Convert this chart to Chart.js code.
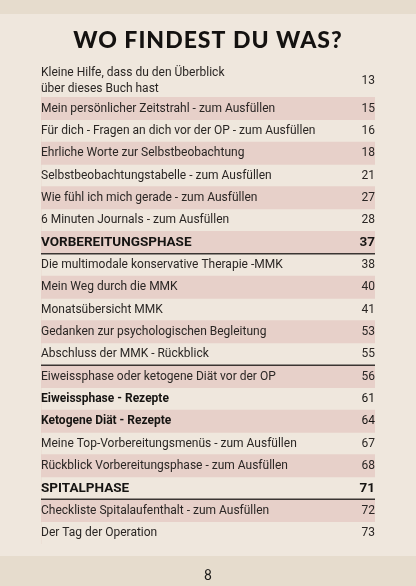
<!DOCTYPE html>
<html>
<head>
<meta charset="utf-8">
<script src="https://cdn.jsdelivr.net/npm/chart.js@4"></script>
<style>
  html, body { margin: 0; padding: 0; background: #efe7dd; }
  #wrap { width: 416px; height: 586px; position: relative; }
</style>
</head>
<body>
<div id="wrap"><canvas id="toc"></canvas></div>
<script>
// table of contents entries (one per row)
const entries = [
  ['Kleine Hilfe, dass du den Überblick', 'über dieses Buch hast'],
  'Mein persönlicher Zeitstrahl - zum Ausfüllen',
  'Für dich - Fragen an dich vor der OP - zum Ausfüllen',
  'Ehrliche Worte zur Selbstbeobachtung',
  'Selbstbeobachtungstabelle - zum Ausfüllen',
  'Wie fühl ich mich gerade - zum Ausfüllen',
  '6 Minuten Journals - zum Ausfüllen',
  'VORBEREITUNGSPHASE',
  'Die multimodale konservative Therapie -MMK',
  'Mein Weg durch die MMK',
  'Monatsübersicht MMK',
  'Gedanken zur psychologischen Begleitung',
  'Abschluss der MMK - Rückblick',
  'Eiweissphase oder ketogene Diät vor der OP',
  'Eiweissphase - Rezepte',
  'Ketogene Diät - Rezepte',
  'Meine Top-Vorbereitungsmenüs - zum Ausfüllen',
  'Rückblick Vorbereitungsphase - zum Ausfüllen',
  'SPITALPHASE',
  'Checkliste Spitalaufenthalt - zum Ausfüllen',
  'Der Tag der Operation'
];
const pages = [13, 15, 16, 18, 21, 27, 28, 37, 38, 40, 41, 53, 55, 56, 61, 64, 67, 68, 71, 72, 73];
// 1 = shaded row, 0 = plain row
const shaded = [0, 1, 0, 1, 0, 1, 0, 1, 0, 1, 0, 1, 0, 1, 0, 1, 0, 1, 0, 1, 0];
// 2 = section heading, 1 = bold entry, 0 = normal
const weight = [0, 0, 0, 0, 0, 0, 0, 2, 0, 0, 0, 0, 0, 0, 1, 1, 0, 0, 2, 0, 0];
// rows followed by a divider line
const dividers = [7, 12, 18];

const textPlugin = {
  id: 'tocText',
  afterDatasetsDraw(chart) {
    const ctx = chart.ctx;
    const area = chart.chartArea;
    const y = chart.scales.y;
    ctx.save();
    // title
    ctx.fillStyle = '#141210';
    ctx.font = '900 23px Lato';
    ctx.textAlign = 'center';
    ctx.textBaseline = 'middle';
    ctx.letterSpacing = '1px';
    ctx.fillText('WO FINDEST DU WAS?', 208, 41);
    ctx.letterSpacing = '0px';

    entries.forEach((label, i) => {
      const cy = y.getPixelForValue(i);
      const w = weight[i];
      ctx.fillStyle = w ? '#161412' : '#2a2624';
      ctx.font = w === 2 ? 'bold 13.5px Roboto' : (w === 1 ? 'bold 12px Roboto' : '12px Roboto');
      ctx.textAlign = 'left';
      if (Array.isArray(label)) {
        ctx.fillText(label[0], area.left, cy - 13);
        ctx.fillText(label[1], area.left, cy + 3);
      } else {
        ctx.fillText(label, area.left, cy);
      }
      ctx.textAlign = 'right';
      ctx.font = w === 2 ? 'bold 13.5px Roboto' : '12px Roboto';
      ctx.fillText(String(pages[i]), area.right, Array.isArray(label) ? cy - 5 : cy);
    });

    ctx.strokeStyle = '#3a3532';
    ctx.lineWidth = 1.5;
    dividers.forEach(i => {
      const ly = (y.getPixelForValue(i) + y.getPixelForValue(i + 1)) / 2;
      ctx.beginPath();
      ctx.moveTo(area.left, ly);
      ctx.lineTo(area.right, ly);
      ctx.stroke();
    });

    ctx.fillStyle = '#1c1a18';
    ctx.font = '14px Roboto';
    ctx.textAlign = 'center';
    ctx.fillText('8', 208, 576);
    ctx.restore();
  },
  beforeDraw(chart) {
    const ctx = chart.ctx;
    ctx.save();
    ctx.fillStyle = '#efe7dd';
    ctx.fillRect(0, 0, chart.width, chart.height);
    // torn paper strips
    ctx.fillStyle = '#e6dccd';
    ctx.fillRect(0, 0, chart.width, 14);
    ctx.fillRect(0, 556, chart.width, 30);
    ctx.restore();
  }
};

new Chart(document.getElementById('toc'), {
  type: 'bar',
  data: {
    labels: entries,
    datasets: [{
      data: shaded,
      backgroundColor: '#e7d0c9',
      barPercentage: 1,
      categoryPercentage: 1
    }]
  },
  options: {
    indexAxis: 'y',
    responsive: true,
    maintainAspectRatio: false,
    animation: false,
    layout: { padding: { left: 41, right: 41, top: 75, bottom: 42 } },
    plugins: { legend: { display: false }, tooltip: { enabled: false } },
    scales: {
      x: { display: false, min: 0, max: 1 },
      y: { display: false }
    }
  },
  plugins: [textPlugin]
});
</script>
</body>
</html>
